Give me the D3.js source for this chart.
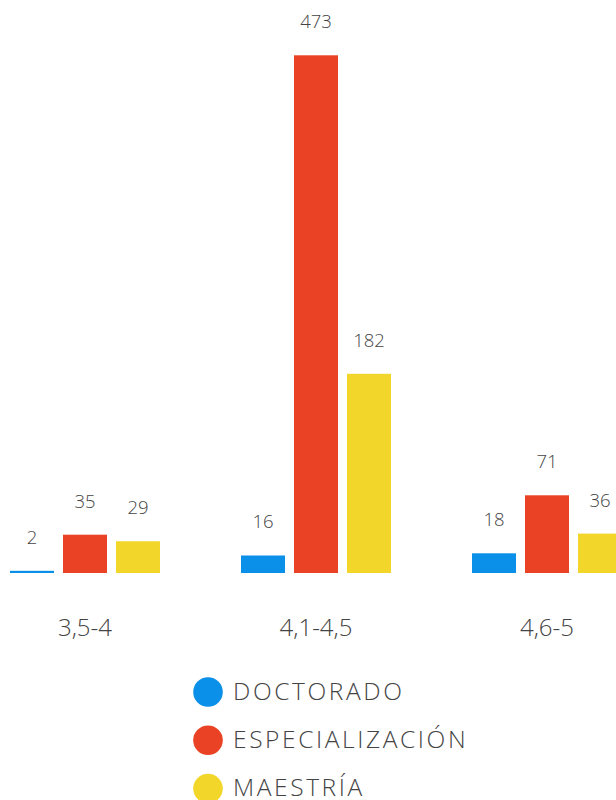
<!DOCTYPE html>
<html><head><meta charset="utf-8">
<script src="https://cdn.jsdelivr.net/npm/d3@7"></script>
<style>html,body{margin:0;padding:0;background:#fff;overflow:hidden}</style>
</head><body>
<svg id="c" width="616" height="800"></svg>
<script>
const categories = ["3,5-4", "4,1-4,5", "4,6-5"];
const seriesNames = ["DOCTORADO", "ESPECIALIZACIÓN", "MAESTRÍA"];
const doctorado = [2, 16, 18];
const especializacion = [35, 473, 71];
const maestria = [29, 182, 36];
const colors = ["#0a90e9", "#e94224", "#f2d62a"];

const values = [doctorado, especializacion, maestria];
const svg = d3.select("#c");
const font = "'Open Sans', sans-serif";
const baseY = 573;

const x0 = d3.scaleBand().domain(categories).range([10, 622]).paddingInner(81/231).paddingOuter(0);
const x1 = d3.scaleBand().domain(seriesNames).range([0, x0.bandwidth()]).paddingInner(9/53).paddingOuter(0);
const y = d3.scaleLinear().domain([0, 473]).range([baseY, 55.3]);

const data = [];
categories.forEach((c, i) => seriesNames.forEach((s, j) => data.push({c, s, j, v: values[j][i]})));

const g = svg.append("g");
g.selectAll("rect").data(data).join("rect")
  .attr("x", d => x0(d.c) + x1(d.s))
  .attr("y", d => y(d.v))
  .attr("width", x1.bandwidth())
  .attr("height", d => baseY - y(d.v))
  .attr("fill", d => colors[d.j]);

g.selectAll("text.val").data(data).join("text").attr("class", "val")
  .attr("x", d => x0(d.c) + x1(d.s) + x1.bandwidth()/2)
  .attr("y", d => y(d.v) - 27)
  .attr("text-anchor", "middle")
  .attr("font-family", font).attr("font-size", 18.5).attr("font-weight", 300).attr("fill", "#444")
  .text(d => d.v);

// category axis labels
const axis = d3.axisBottom(x0).tickSize(0).tickPadding(0);
const ax = svg.append("g").attr("transform", `translate(0,${baseY})`).call(axis);
ax.select(".domain").remove();
ax.selectAll("text").attr("dy", null).attr("y", 63)
  .attr("font-family", font).attr("font-size", 24).attr("font-weight", 300).attr("fill", "#444");

// legend
const lg = svg.append("g");
seriesNames.forEach((s, j) => {
  const cy = 692 + j * 48.3;
  lg.append("circle").attr("cx", 208).attr("cy", cy).attr("r", 14.8).attr("fill", colors[j]);
  lg.append("text").attr("x", 233).attr("y", cy + 7.5)
    .attr("font-family", font).attr("font-size", 24.5).attr("font-weight", 300).attr("letter-spacing", 2.6)
    .attr("fill", "#444").text(s);
});
</script>
</body></html>
